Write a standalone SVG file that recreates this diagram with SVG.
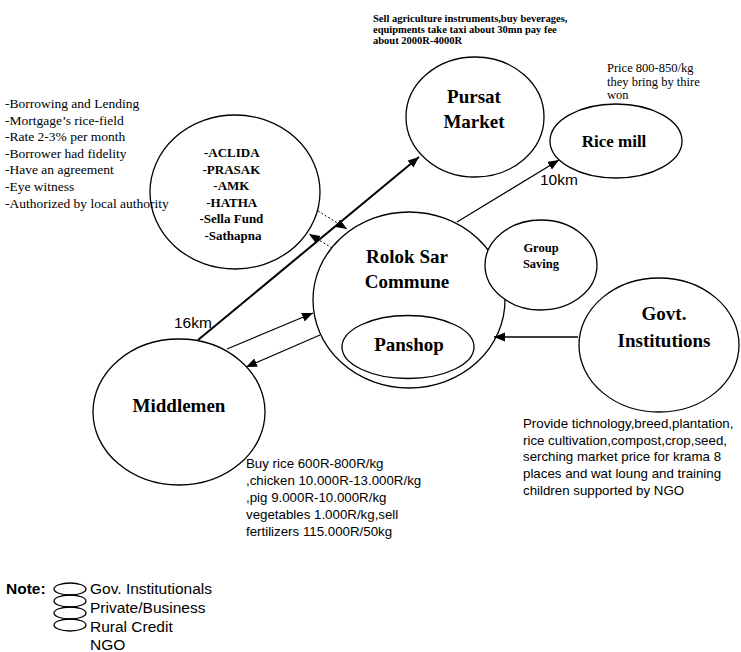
<svg xmlns="http://www.w3.org/2000/svg" width="741" height="652" viewBox="0 0 741 652">
<style>
.node{fill:none;stroke:#000;stroke-width:1.3}
.lbl{font-family:"Liberation Serif","Times New Roman",serif;font-weight:bold;font-size:19px;text-anchor:middle;fill:#000}
.serif{font-family:"Liberation Serif","Times New Roman",serif;fill:#000}
.sans{font-family:"Liberation Sans",Arial,sans-serif;fill:#000}
.ln{fill:none;stroke:#000;stroke-width:1.2}
.dot{fill:none;stroke:#000;stroke-width:1;stroke-dasharray:2 2}
</style>
<defs>
<marker id="ah" markerUnits="userSpaceOnUse" markerWidth="12" markerHeight="10" refX="11" refY="4.5" orient="auto">
<path d="M0,0 L11,4.5 L0,9 Z" fill="#000"/>
</marker>
</defs>
<rect width="741" height="652" fill="#fff"/>

<g id="rural-credit">
<ellipse class="node" cx="235" cy="192" rx="85" ry="77"/>
<text class="serif" font-weight="bold" font-size="13" text-anchor="middle">
<tspan x="233" y="157">-ACLIDA</tspan>
<tspan x="233" y="173.5">-PRASAK</tspan>
<tspan x="233" y="190">-AMK</tspan>
<tspan x="233" y="206.5">-HATHA</tspan>
<tspan x="233" y="223">-Sella Fund</tspan>
<tspan x="233" y="240">-Sathapna</tspan>
</text>
</g>
<g id="rural-credit-notes">
<text class="serif" font-size="13.5">
<tspan x="5" y="108">-Borrowing and Lending</tspan>
<tspan x="5" y="124.6">-Mortgage’s rice-field</tspan>
<tspan x="5" y="141.2">-Rate 2-3% per month</tspan>
<tspan x="5" y="157.8">-Borrower had fidelity</tspan>
<tspan x="5" y="174.4">-Have an agreement</tspan>
<tspan x="5" y="191">-Eye witness</tspan>
<tspan x="5" y="207.6">-Authorized by local authority</tspan>
</text>
</g>

<g id="pursat-market">
<ellipse class="node" cx="475" cy="117" rx="69" ry="60"/>
<text class="lbl" x="474" y="103">Pursat</text>
<text class="lbl" x="474" y="128">Market</text>
</g>
<g id="pursat-notes">
<text class="serif" font-weight="bold" font-size="10.5">
<tspan x="373" y="22">Sell agriculture instruments,buy beverages,</tspan>
<tspan x="373" y="33">equipments take taxi about 30mn pay fee</tspan>
<tspan x="373" y="44">about 2000R-4000R</tspan>
</text>
</g>

<g id="rice-mill">
<ellipse class="node" cx="616" cy="141" rx="66" ry="37"/>
<text class="lbl" x="614" y="147" style="font-size:17px">Rice mill</text>
</g>
<g id="rice-mill-notes">
<text class="serif" font-size="12.5">
<tspan x="607" y="72">Price 800-850/kg</tspan>
<tspan x="607" y="85.5">they bring by thire</tspan>
<tspan x="607" y="98.5">won</tspan>
</text>
</g>

<g id="rolok-sar-commune">
<ellipse class="node" cx="409" cy="300" rx="96" ry="88"/>
<text class="lbl" x="407" y="263">Rolok Sar</text>
<text class="lbl" x="407" y="288">Commune</text>
</g>
<g id="panshop">
<ellipse class="node" cx="408" cy="347" rx="66" ry="31.5"/>
<text class="lbl" x="409" y="351">Panshop</text>
</g>

<g id="group-saving">
<ellipse class="node" cx="541" cy="265" rx="56" ry="45" style="fill:#fff"/>
<text class="lbl" x="541" y="252" style="font-size:12.5px">Group</text>
<text class="lbl" x="541" y="268" style="font-size:12.5px">Saving</text>
</g>

<g id="govt-institutions">
<ellipse class="node" cx="659" cy="345" rx="80" ry="67"/>
<text class="lbl" x="664" y="320">Govt.</text>
<text class="lbl" x="664" y="347">Institutions</text>
</g>
<g id="govt-notes">
<text class="sans" font-size="13.3">
<tspan x="523" y="428">Provide tichnology,breed,plantation,</tspan>
<tspan x="523" y="444.7">rice cultivation,compost,crop,seed,</tspan>
<tspan x="523" y="461.3">serching market price for krama 8</tspan>
<tspan x="523" y="478">places and wat loung and training</tspan>
<tspan x="523" y="494.7">children supported by NGO</tspan>
</text>
</g>

<g id="middlemen">
<ellipse class="node" cx="179" cy="412" rx="86" ry="73"/>
<text class="lbl" x="179" y="412">Middlemen</text>
</g>
<g id="middlemen-notes">
<text class="sans" font-size="13.3">
<tspan x="246" y="468">Buy rice 600R-800R/kg</tspan>
<tspan x="246" y="485">,chicken 10.000R-13.000R/kg</tspan>
<tspan x="246" y="502">,pig 9.000R-10.000R/kg</tspan>
<tspan x="246" y="519">vegetables 1.000R/kg,sell</tspan>
<tspan x="246" y="536">fertilizers 115.000R/50kg</tspan>
</text>
</g>

<g id="connectors">
<line class="ln" x1="198" y1="340" x2="419" y2="157" style="stroke-width:2" marker-end="url(#ah)"/>
<text class="sans" x="174" y="328" font-size="15.5">16km</text>
<line class="ln" x1="457" y1="222" x2="559" y2="160" marker-end="url(#ah)"/>
<text class="sans" x="540" y="185" font-size="15.5">10km</text>
<line class="dot" x1="318" y1="211" x2="347" y2="229" marker-end="url(#ah)"/>
<line class="dot" x1="332" y1="248" x2="309" y2="234" marker-end="url(#ah)"/>
<line class="ln" x1="227" y1="349" x2="313" y2="313" marker-end="url(#ah)"/>
<line class="ln" x1="320" y1="335" x2="246" y2="367" marker-end="url(#ah)"/>
<line class="ln" x1="578" y1="337" x2="494" y2="337" style="stroke-width:1.5" marker-end="url(#ah)"/>
</g>

<g id="legend">
<text class="sans" x="6" y="594" font-size="15.5" font-weight="bold">Note:</text>
<ellipse class="node" cx="70" cy="589" rx="16" ry="6"/>
<ellipse class="node" cx="70" cy="601" rx="16" ry="6"/>
<ellipse class="node" cx="70" cy="613" rx="16" ry="6"/>
<ellipse class="node" cx="70" cy="625" rx="16" ry="6"/>
<text class="sans" font-size="15.5">
<tspan x="90" y="594">Gov. Institutionals</tspan>
<tspan x="90" y="613">Private/Business</tspan>
<tspan x="90" y="632">Rural Credit</tspan>
<tspan x="90" y="650">NGO</tspan>
</text>
</g>
</svg>
